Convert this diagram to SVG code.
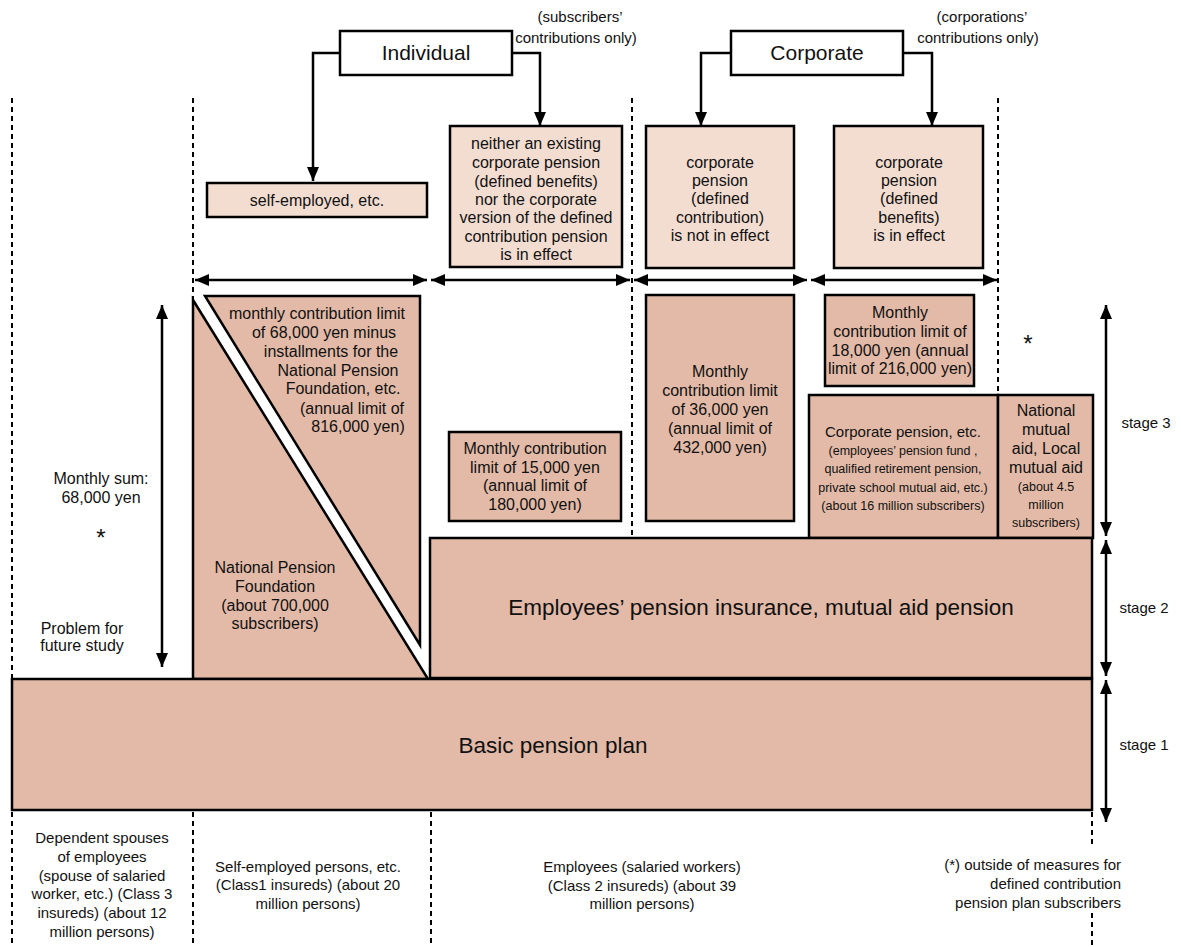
<svg xmlns="http://www.w3.org/2000/svg" width="1181" height="947" viewBox="0 0 1181 947">
<defs>
<marker id="ah" markerUnits="userSpaceOnUse" markerWidth="14" markerHeight="12" refX="14" refY="6" orient="auto-start-reverse">
<path d="M0,0 L14,6 L0,12 z" fill="#000"/>
</marker>
<style>
.bx{stroke:#000;stroke-width:2.5}
.w{fill:#fff}
.p{fill:#f3ddd1}
.d{fill:#e2baa7}
.dot{stroke:#000;stroke-width:2;stroke-dasharray:5,4;fill:none}
.ln{stroke:#000;stroke-width:2.5;fill:none}
.ar{marker-end:url(#ah)}
.ar2{marker-start:url(#ah);marker-end:url(#ah)}
text{font-family:"Liberation Sans",Arial,sans-serif;fill:#111;text-anchor:middle}
.t16{font-size:16px}
.t15{font-size:15px}
.t13{font-size:12.5px}
.t21{font-size:21px}
.t22{font-size:22.5px}
.star{font-size:24px}
</style>
</defs>
<rect width="1181" height="947" fill="#fff"/>

<g id="dotted-lines">
<line class="dot" x1="12" y1="98" x2="12" y2="678"/>
<line class="dot" x1="193" y1="98" x2="193" y2="300"/>
<line class="dot" x1="632" y1="98" x2="632" y2="538"/>
<line class="dot" x1="998" y1="98" x2="998" y2="395"/>
<line class="dot" x1="12" y1="812" x2="12" y2="947"/>
<line class="dot" x1="193" y1="812" x2="193" y2="947"/>
<line class="dot" x1="431" y1="812" x2="431" y2="947"/>
<line class="dot" x1="1092" y1="812" x2="1092" y2="845"/>
<line class="dot" x1="1092" y1="913" x2="1092" y2="947"/>
</g>

<g id="connectors">
<path class="ln ar" d="M340,53 H313 V181"/>
<path class="ln ar" d="M512,53 H540 V126"/>
<path class="ln ar" d="M731,53 H701 V126"/>
<path class="ln ar" d="M903,53 H932 V126"/>
<path class="ln ar2" d="M195,280 H427"/>
<path class="ln ar2" d="M431,280 H630"/>
<path class="ln ar2" d="M634,280 H807"/>
<path class="ln ar2" d="M811,280 H997"/>
<path class="ln ar2" d="M162,305 V667"/>
<path class="ln ar2" d="M1106,305 V536"/>
<path class="ln ar2" d="M1106,540 V676"/>
<path class="ln ar2" d="M1106,680 V822"/>
</g>

<g id="individual">
<rect class="bx w" x="340" y="31" width="172" height="44"/>
<text class="t21" x="426" y="60">Individual</text>
</g>
<g id="subscribers-note">
<text class="t15" x="580" y="22">(subscribers’</text>
<text class="t15" x="576" y="43">contributions only)</text>
</g>
<g id="corporate">
<rect class="bx w" x="731" y="31" width="172" height="44"/>
<text class="t21" x="817" y="60">Corporate</text>
</g>
<g id="corporations-note">
<text class="t15" x="982" y="22">(corporations’</text>
<text class="t15" x="978" y="43">contributions only)</text>
</g>

<g id="self-employed">
<rect class="bx p" x="207" y="183" width="220" height="34"/>
<text class="t16" x="317" y="206">self-employed, etc.</text>
</g>
<g id="neither">
<rect class="bx p" x="450" y="126" width="172" height="141"/>
<text class="t16" x="536" y="149">neither an existing</text>
<text class="t16" x="536" y="168">corporate pension</text>
<text class="t16" x="536" y="187">(defined benefits)</text>
<text class="t16" x="536" y="205">nor the corporate</text>
<text class="t16" x="536" y="223">version of the defined</text>
<text class="t16" x="536" y="242">contribution pension</text>
<text class="t16" x="536" y="260">is in effect</text>
</g>
<g id="corp-dc">
<rect class="bx p" x="646" y="126" width="148" height="142"/>
<text class="t16" x="720" y="168">corporate</text>
<text class="t16" x="720" y="186">pension</text>
<text class="t16" x="720" y="204">(defined</text>
<text class="t16" x="720" y="223">contribution)</text>
<text class="t16" x="720" y="241">is not in effect</text>
</g>
<g id="corp-db">
<rect class="bx p" x="834" y="126" width="149" height="142"/>
<text class="t16" x="909" y="168">corporate</text>
<text class="t16" x="909" y="186">pension</text>
<text class="t16" x="909" y="204">(defined</text>
<text class="t16" x="909" y="223">benefits)</text>
<text class="t16" x="909" y="241">is in effect</text>
</g>

<g id="monthly-68000">
<polygon class="bx d" points="205,296 420,296 420,645"/>
<text class="t16" x="317" y="319">monthly contribution limit</text>
<text class="t16" x="324" y="338">of 68,000 yen minus</text>
<text class="t16" x="331" y="357">installments for the</text>
<text class="t16" x="338" y="376">National Pension</text>
<text class="t16" x="343" y="394">Foundation, etc.</text>
<text class="t16" x="352" y="414">(annual limit of</text>
<text class="t16" x="358" y="432">816,000 yen)</text>
</g>
<g id="national-pension-foundation">
<polygon class="bx d" points="193,300 193,679 428,679"/>
<text class="t16" x="275" y="573">National Pension</text>
<text class="t16" x="275" y="592">Foundation</text>
<text class="t16" x="275" y="611">(about 700,000</text>
<text class="t16" x="275" y="629">subscribers)</text>
</g>

<g id="monthly-sum">
<text class="t16" x="101" y="484">Monthly sum:</text>
<text class="t16" x="101" y="503">68,000 yen</text>
<text class="star" x="101" y="546">*</text>
<text class="t16" x="82" y="634">Problem for</text>
<text class="t16" x="82" y="651">future study</text>
</g>

<g id="limit-15000">
<rect class="bx d" x="449" y="432" width="172" height="89"/>
<text class="t16" x="535" y="454">Monthly contribution</text>
<text class="t16" x="535" y="473">limit of 15,000 yen</text>
<text class="t16" x="535" y="491">(annual limit of</text>
<text class="t16" x="535" y="510">180,000 yen)</text>
</g>
<g id="limit-36000">
<rect class="bx d" x="646" y="295" width="148" height="226"/>
<text class="t16" x="720" y="377">Monthly</text>
<text class="t16" x="720" y="396">contribution limit</text>
<text class="t16" x="720" y="415">of 36,000 yen</text>
<text class="t16" x="720" y="434">(annual limit of</text>
<text class="t16" x="720" y="453">432,000 yen)</text>
</g>
<g id="limit-18000">
<rect class="bx d" x="825" y="295" width="149" height="91"/>
<text class="t16" x="900" y="318">Monthly</text>
<text class="t16" x="900" y="337">contribution limit of</text>
<text class="t16" x="900" y="356">18,000 yen (annual</text>
<text class="t16" x="900" y="374">limit of 216,000 yen)</text>
</g>
<g id="star-note">
<text class="star" x="1028" y="352">*</text>
</g>

<g id="corporate-pension">
<rect class="bx d" x="809" y="395" width="189" height="143"/>
<text class="t15" x="903" y="437">Corporate pension, etc.</text>
<text class="t13" x="903" y="455">(employees’ pension fund ,</text>
<text class="t13" x="903" y="473">qualified retirement pension,</text>
<text class="t13" x="903" y="492">private school mutual aid, etc.)</text>
<text class="t13" x="903" y="510">(about 16 million subscribers)</text>
</g>
<g id="mutual-aid">
<rect class="bx d" x="998" y="395" width="95" height="143"/>
<text class="t16" x="1046" y="416">National</text>
<text class="t16" x="1046" y="435">mutual</text>
<text class="t16" x="1046" y="454">aid, Local</text>
<text class="t16" x="1046" y="473">mutual aid</text>
<text class="t13" x="1046" y="491">(about 4.5</text>
<text class="t13" x="1046" y="509">million</text>
<text class="t13" x="1046" y="527">subscribers)</text>
</g>

<g id="employees-pension">
<rect class="bx d" x="430" y="538" width="662" height="140"/>
<text class="t22" x="761" y="615">Employees’ pension insurance, mutual aid pension</text>
</g>
<g id="basic-pension">
<rect class="bx d" x="12" y="679" width="1080" height="131"/>
<text class="t22" x="553" y="753">Basic pension plan</text>
</g>

<g id="stages">
<text class="t15" x="1146" y="428">stage 3</text>
<text class="t15" x="1144" y="613">stage 2</text>
<text class="t15" x="1144" y="750">stage 1</text>
</g>

<g id="bottom-labels">
<text class="t15" x="102" y="843">Dependent spouses</text>
<text class="t15" x="102" y="862">of employees</text>
<text class="t15" x="102" y="881">(spouse of salaried</text>
<text class="t15" x="102" y="899">worker, etc.) (Class 3</text>
<text class="t15" x="102" y="918">insureds) (about 12</text>
<text class="t15" x="102" y="937">million persons)</text>
<text class="t15" x="308" y="872">Self-employed persons, etc.</text>
<text class="t15" x="308" y="890">(Class1 insureds) (about 20</text>
<text class="t15" x="308" y="909">million persons)</text>
<text class="t15" x="642" y="872">Employees (salaried workers)</text>
<text class="t15" x="642" y="891">(Class 2 insureds) (about 39</text>
<text class="t15" x="642" y="909">million persons)</text>
<text class="t15" x="1121" y="870" style="text-anchor:end">(*) outside of measures for</text>
<text class="t15" x="1121" y="889" style="text-anchor:end">defined contribution</text>
<text class="t15" x="1121" y="908" style="text-anchor:end">pension plan subscribers</text>
</g>
</svg>
